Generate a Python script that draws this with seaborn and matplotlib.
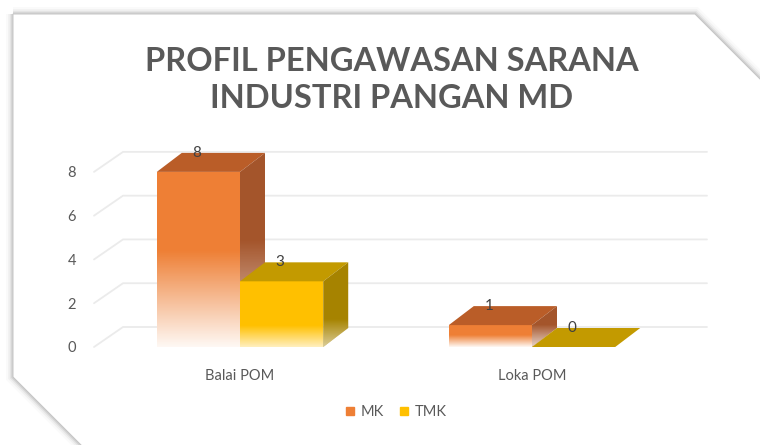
import numpy as np
import pandas as pd
import matplotlib
matplotlib.use("Agg")
import matplotlib.pyplot as plt
from matplotlib.patches import Polygon
from matplotlib.lines import Line2D
import seaborn as sns

# chart data

categories = ["Balai POM", "Loka POM"]
series = ["MK", "TMK"]
mk_values = [8, 1]
tmk_values = [3, 0]
y_ticks = [0, 2, 4, 6, 8]
title = "PROFIL PENGAWASAN SARANA\nINDUSTRI PANGAN MD"

# colours for the faces of the 3d bars

front_colors = {"MK": "#EE7F35", "TMK": "#FFC000"}
top_colors = {"MK": "#BA5D28", "TMK": "#C39A00"}
side_colors = {"MK": "#A4552B", "TMK": "#A68300"}
fade = {"MK": (0.55, 0.95), "TMK": (0.33, 0.75)}  # part of bar that fades, white alpha at bottom
text_color = "#595959"

df = pd.DataFrame({
    "site": categories * 2,
    "status": ["MK"] * len(categories) + ["TMK"] * len(categories),
    "count": mk_values + tmk_values,
})

sns.set_theme(style="white")
plt.rcParams["font.family"] = ["Lato", "DejaVu Sans"]

W, H = 760, 445
fig = plt.figure(figsize=(W / 100, H / 100), dpi=100)
fig.patch.set_facecolor("white")

# card with cut corners and a soft shadow

card_px = [(13, 14), (695, 14), (800, 119), (800, 480), (116, 480), (13, 377)]
card = [(x / W, 1 - y / H) for x, y in card_px]
for lw, a in [(10, 0.02), (7, 0.035), (4.5, 0.05), (2.5, 0.08)]:
    fig.patches.append(Polygon(card, closed=True, fill=False, edgecolor="black", lw=lw,
                               alpha=a, transform=fig.transFigure, zorder=0))
fig.patches.append(Polygon(card, closed=True, facecolor="white", edgecolor="#c4c4c4", lw=0.7,
                           transform=fig.transFigure, zorder=1))

# plot area (front plane of the 3d chart)

ax_l, ax_r, ax_b, ax_t = 94, 678, 347, 150
ax = fig.add_axes([ax_l / W, 1 - ax_b / H, (ax_r - ax_l) / W, (ax_b - ax_t) / H], zorder=2)
ax.patch.set_alpha(0)
xlim, ylim = (-0.5, 1.5), (0, 9)

sns.barplot(data=df, x="site", y="count", hue="status", palette=front_colors, hue_order=series,
            width=0.57, saturation=1, legend=False, ax=ax)

ux = (xlim[1] - xlim[0]) / (ax_r - ax_l)
uy = (ylim[1] - ylim[0]) / (ax_b - ax_t)
bar_dx, bar_dy = 25 * ux, 19 * uy
wall_dx, wall_dy = 29 * ux, 20 * uy

# gridlines on the back wall

for t in y_ticks:
    ax.plot([xlim[0], xlim[0] + wall_dx, xlim[1] + wall_dx], [t, t + wall_dy, t + wall_dy],
            color="#ebebeb", lw=1.3, zorder=0.5, clip_on=False)


def white_fade(ramp, a0, n=200):
    f = np.linspace(0, 1, n)
    grad = np.ones((n, 1, 4))
    grad[:, 0, 3] = a0 * np.clip(1 - f / ramp, 0, 1)
    return grad


bars = []
for name, cont in zip(series, ax.containers):
    for p in cont.patches:
        bars.append((p.get_x(), name, p))
bars.sort(key=lambda b: b[0])

for i, (x0, name, p) in enumerate(bars):
    w, h = p.get_width(), p.get_height()
    z = 2 + i
    p.set_zorder(z)
    p.set_edgecolor("none")
    ramp, a0 = fade[name]
    if h > 0:
        ax.imshow(white_fade(ramp, a0), extent=[x0, x0 + w, 0, h], origin="lower",
                  aspect="auto", zorder=z + 0.1, interpolation="bilinear")
    top = Polygon([(x0, h), (x0 + w, h), (x0 + w + bar_dx, h + bar_dy), (x0 + bar_dx, h + bar_dy)],
                  closed=True, facecolor=top_colors[name], edgecolor="none", zorder=z + 0.2)
    ax.add_patch(top)
    side = Polygon([(x0 + w, 0), (x0 + w + bar_dx, bar_dy), (x0 + w + bar_dx, h + bar_dy), (x0 + w, h)],
                   closed=True, facecolor=side_colors[name], edgecolor="none", zorder=z + 0.3)
    ax.add_patch(side)
    if h > 0:
        im = ax.imshow(white_fade(ramp, a0 * 0.8), extent=[x0 + w, x0 + w + bar_dx, 0, h + bar_dy],
                       origin="lower", aspect="auto", zorder=z + 0.4, interpolation="bilinear")
        im.set_clip_path(side)
    ax.text(x0 + bar_dx + 0.18 * w, h + bar_dy, f"{h:.0f}", ha="center", va="center",
            fontsize=11, color="#404040", zorder=20)

ax.set_xlim(xlim)
ax.set_ylim(ylim)
ax.set_yticks(y_ticks)
ax.set_xlabel("")
ax.set_ylabel("")
sns.despine(ax=ax, left=True, bottom=True)
ax.tick_params(axis="y", length=0, pad=13, labelsize=10.5, labelcolor=text_color)
ax.tick_params(axis="x", length=0, pad=16, labelsize=10.5, labelcolor=text_color)
ax.grid(False)

# legend and title

handles = [Line2D([], [], marker="s", linestyle="", color=front_colors[s], markersize=5.5) for s in series]
fig.legend(handles, series, loc="center", bbox_to_anchor=(394 / W, 1 - 412 / H), ncol=2,
           frameon=False, fontsize=10.5, handletextpad=0.1, handlelength=1.2,
           columnspacing=0.8, labelcolor=text_color)

fig.text(392 / W, 1 - 80 / H, title, ha="center", va="center", fontsize=23.5, fontweight="bold",
         color=text_color, linespacing=1.3)

fig.savefig("out.png", dpi=100)
